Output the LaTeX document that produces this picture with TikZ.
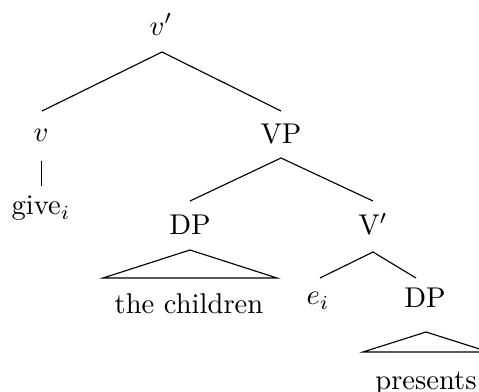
\documentclass[tikz,border=0pt]{standalone}
\begin{document}
\begin{tikzpicture}[x=0.35pt,y=-0.35pt,
  lab/.style={anchor=base,inner sep=0pt,outer sep=0pt},
  edge/.style={line width=0.4pt}]
\clip (0,0) rectangle (479,392);
\useasboundingbox (0,0) rectangle (479,392);
% labels
\node[lab] (vbar)  at (161,35)  {$v'$};
\node[lab] (v)     at (41,142)  {$v$};
\node[lab] (VP)    at (281,143) {VP};
\node[lab] (give)  at (41,215)  {give$_i$};
\node[lab] (DP1)   at (190,235) {DP};
\node[lab] (Vbar)  at (373,235) {V$'$};
\node[lab] (child) at (189,314) {the children};
\node[lab] (ei)    at (318,305) {$e_i$};
\node[lab] (DP2)   at (425,308) {DP};
\node[lab] (pres)  at (426,390) {presents};
% attachment points
\coordinate (vbar-b) at (162,52);
\coordinate (v-t)    at (42,111);
\coordinate (VP-t)   at (281,111);
\coordinate (v-b)    at (41.7,161);
\coordinate (give-t) at (41.7,186);
\coordinate (VP-b)   at (281,158);
\coordinate (DP1-t)  at (190,201);
\coordinate (Vbar-t) at (373,201);
\coordinate (DP1-b)  at (190,250);
\coordinate (tri1-l) at (103,278);
\coordinate (tri1-r) at (277,278);
\coordinate (Vbar-b) at (373,252);
\coordinate (ei-t)   at (320,278);
\coordinate (DP2-t)  at (416,278);
\coordinate (DP2-b)  at (426,332);
\coordinate (tri2-l) at (363,352);
\coordinate (tri2-r) at (489,352);
% edges
\draw[edge] (v-t) -- (vbar-b) -- (VP-t);
\draw[edge] (v-b) -- (give-t);
\draw[edge] (DP1-t) -- (VP-b) -- (Vbar-t);
\draw[edge] (DP1-b) -- (tri1-l) -- (tri1-r) -- cycle;
\draw[edge] (ei-t) -- (Vbar-b) -- (DP2-t);
\draw[edge] (DP2-b) -- (tri2-l) -- (tri2-r) -- cycle;
\end{tikzpicture}
\end{document}
